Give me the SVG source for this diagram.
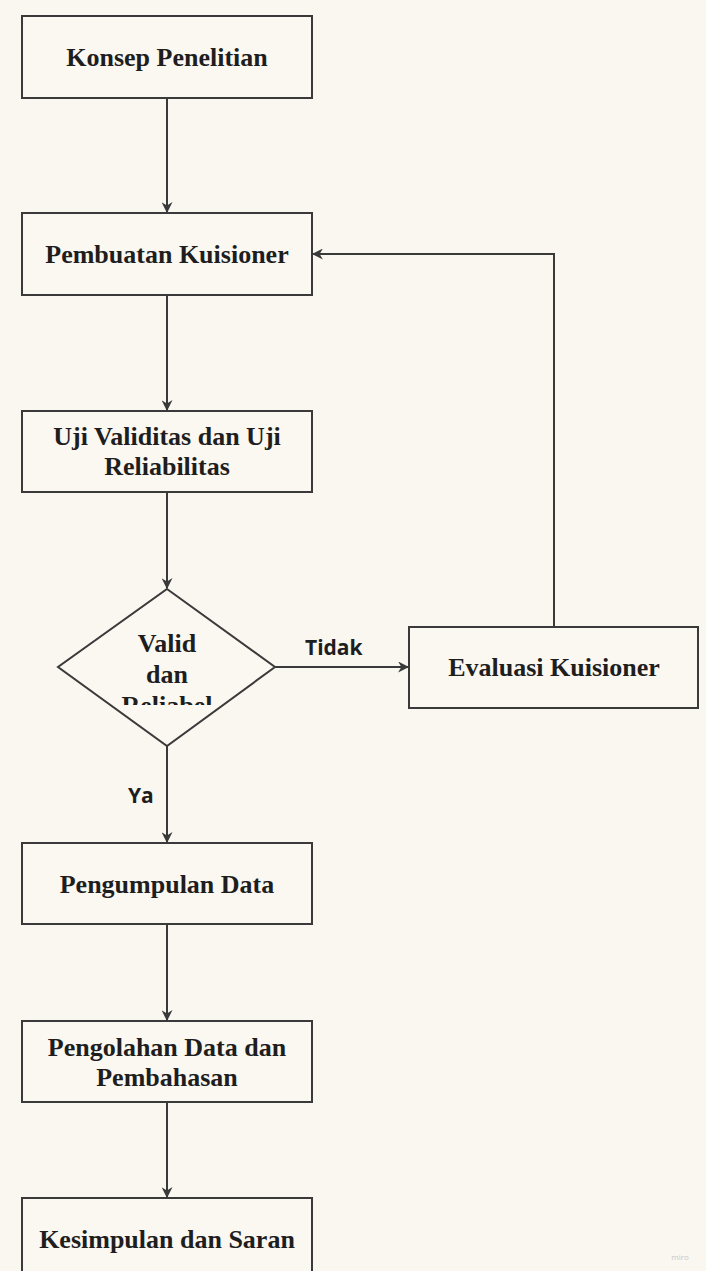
<svg xmlns="http://www.w3.org/2000/svg" width="706" height="1271" viewBox="0 0 706 1271">
  <style>
    .box { fill: #fbf7f1; stroke: #3a3a3a; stroke-width: 2; }
    .lbl { font-family: "Liberation Serif", "Times New Roman", serif; font-weight: bold; font-size: 26px; fill: #1e1e1e; text-anchor: middle; }
    .edge { fill: none; stroke: #3a3a3a; stroke-width: 2; }
    .elbl { font-family: "Open Sans", "Noto Sans", sans-serif; font-weight: bold; font-size: 21px; fill: #1e1e1e; }
  </style>
  <defs>
    <marker id="arrow" viewBox="0 0 10 10" refX="9" refY="5" markerWidth="5.5" markerHeight="5.5" orient="auto" markerUnits="strokeWidth">
      <path d="M0,0 L10,5 L0,10 L3,5 Z" fill="#3a3a3a"/>
    </marker>
    <clipPath id="diamondText">
      <rect x="100" y="620" width="140" height="85"/>
    </clipPath>
  </defs>

  <rect width="706" height="1271" fill="#faf6f0"/>

  <g id="connectors">
    <line class="edge" x1="167" y1="98" x2="167" y2="212" marker-end="url(#arrow)"/>
    <line class="edge" x1="167" y1="295" x2="167" y2="410" marker-end="url(#arrow)"/>
    <line class="edge" x1="167" y1="492" x2="167" y2="588" marker-end="url(#arrow)"/>
    <line class="edge" x1="275" y1="667" x2="408" y2="667" marker-end="url(#arrow)"/>
    <polyline class="edge" points="554,627 554,254 313,254" marker-end="url(#arrow)"/>
    <line class="edge" x1="167" y1="746" x2="167" y2="842" marker-end="url(#arrow)"/>
    <line class="edge" x1="167" y1="924" x2="167" y2="1020" marker-end="url(#arrow)"/>
    <line class="edge" x1="167" y1="1102" x2="167" y2="1197" marker-end="url(#arrow)"/>
    <text class="elbl" x="305" y="655">Tidak</text>
    <text class="elbl" x="128" y="803">Ya</text>
  </g>

  <g id="konsep">
    <rect class="box" x="22" y="16" width="290" height="82"/>
    <text class="lbl" x="167" y="66">Konsep Penelitian</text>
  </g>

  <g id="pembuatan">
    <rect class="box" x="22" y="213" width="290" height="82"/>
    <text class="lbl" x="167" y="263">Pembuatan Kuisioner</text>
  </g>

  <g id="uji">
    <rect class="box" x="22" y="411" width="290" height="81"/>
    <text class="lbl" x="167" y="445">Uji Validitas dan Uji</text>
    <text class="lbl" x="167" y="475">Reliabilitas</text>
  </g>

  <g id="keputusan">
    <polygon class="box" points="167,589 275,667 167,746 58,667"/>
    <g clip-path="url(#diamondText)">
      <text class="lbl" x="167" y="652">Valid</text>
      <text class="lbl" x="167" y="683">dan</text>
      <text class="lbl" x="167" y="714">Reliabel</text>
    </g>
  </g>

  <g id="evaluasi">
    <rect class="box" x="409" y="627" width="289" height="81"/>
    <text class="lbl" x="554" y="676">Evaluasi Kuisioner</text>
  </g>

  <g id="pengumpulan">
    <rect class="box" x="22" y="843" width="290" height="81"/>
    <text class="lbl" x="167" y="893">Pengumpulan Data</text>
  </g>

  <g id="pengolahan">
    <rect class="box" x="22" y="1021" width="290" height="81"/>
    <text class="lbl" x="167" y="1056">Pengolahan Data dan</text>
    <text class="lbl" x="167" y="1086">Pembahasan</text>
  </g>

  <g id="kesimpulan">
    <rect class="box" x="22" y="1198" width="290" height="82"/>
    <text class="lbl" x="167" y="1248">Kesimpulan dan Saran</text>
  </g>

  <text x="680" y="1260" font-family="Open Sans, sans-serif" font-size="8" fill="#c8c8cc" text-anchor="middle">miro</text>
</svg>
